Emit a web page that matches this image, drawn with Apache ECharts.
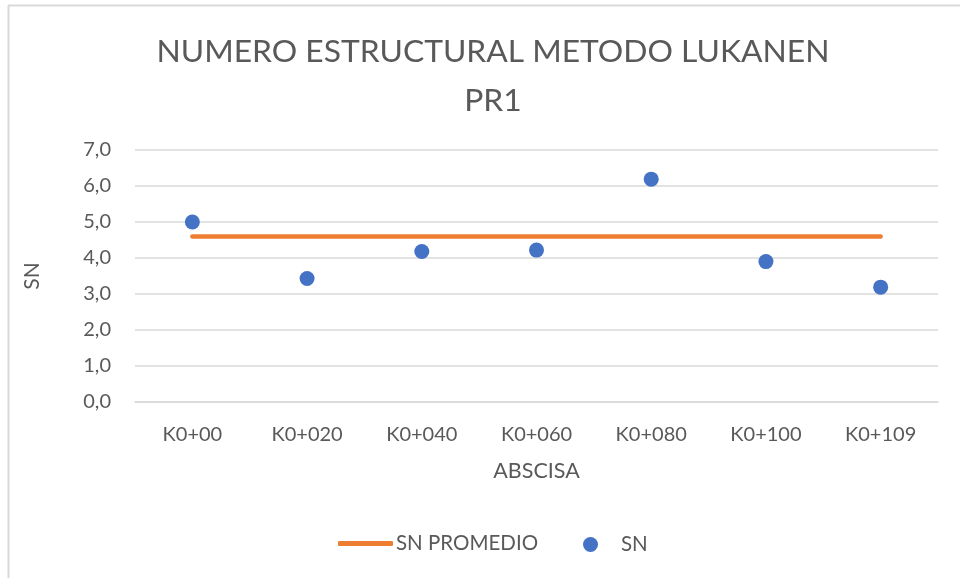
<!DOCTYPE html>
<html>
<head>
<meta charset="utf-8">
<script src="https://cdn.jsdelivr.net/npm/echarts@6/dist/echarts.min.js"></script>
<style>html,body{margin:0;padding:0;background:#fff}#c{width:960px;height:578px}</style>
</head>
<body>
<div id="c"></div>
<script>
const categories = ['K0+00','K0+020','K0+040','K0+060','K0+080','K0+100','K0+109'];
const snValues = [5.00, 3.43, 4.18, 4.22, 6.19, 3.90, 3.19];
const snPromedio = [4.60, 4.60, 4.60, 4.60, 4.60, 4.60, 4.60];
const yTicks = { min: 0, max: 7, interval: 1 };

const FONT = 'Lato';
const TXT = '#595959';
const chart = echarts.init(document.getElementById('c'));
chart.setOption({
  backgroundColor: '#fff',
  animation: false,
  textStyle: { fontFamily: FONT },
  title: {
    text: 'NUMERO ESTRUCTURAL METODO LUKANEN\nPR1',
    left: 488, top: 22, textAlign: 'center',
    textStyle: { fontFamily: FONT, fontSize: 31.8, fontWeight: 'normal', color: TXT, lineHeight: 49 }
  },
  graphic: [
    { type: 'line', shape: { x1: 8, y1: 5.5, x2: 960, y2: 5.5 }, style: { stroke: '#d9d9d9', lineWidth: 2 } },
    { type: 'line', shape: { x1: 8.5, y1: 5, x2: 8.5, y2: 578 }, style: { stroke: '#d9d9d9', lineWidth: 2 } }
  ],
  legend: [
    { data: [{ name: 'SN PROMEDIO', icon: 'roundRect' }], left: 333, top: 528, itemWidth: 55, itemHeight: 5,
      textStyle: { fontFamily: FONT, fontSize: 20.5, color: TXT, padding: [0, 0, 0, -2] } },
    { data: [{ name: 'SN', icon: 'circle' }], left: 578, top: 529, itemWidth: 15, itemHeight: 15,
      textStyle: { fontFamily: FONT, fontSize: 20.5, color: TXT, padding: [0, 0, 0, 18] } }
  ],
  grid: { left: 135, right: 22, top: 150, bottom: 176 },
  xAxis: {
    type: 'category', data: categories, boundaryGap: true,
    name: 'ABSCISA', nameLocation: 'middle', nameGap: 58,
    nameTextStyle: { fontFamily: FONT, fontSize: 21.5, color: TXT },
    axisLine: { lineStyle: { color: '#d9d9d9', width: 1.5 } },
    axisTick: { show: false },
    axisLabel: { fontFamily: FONT, fontSize: 20, color: TXT, margin: 23 }
  },
  yAxis: {
    type: 'value', min: yTicks.min, max: yTicks.max, interval: yTicks.interval,
    name: 'SN', nameLocation: 'middle', nameGap: 92,
    nameTextStyle: { fontFamily: FONT, fontSize: 21, color: TXT },
    axisLine: { show: false }, axisTick: { show: false },
    splitLine: { lineStyle: { color: '#d9d9d9', width: 1.5 } },
    axisLabel: { fontFamily: FONT, fontSize: 20, color: TXT, margin: 24,
      formatter: v => v.toFixed(1).replace('.', ',') }
  },
  series: [
    { name: 'SN PROMEDIO', type: 'line', data: snPromedio, symbol: 'none',
      lineStyle: { color: '#ED7D31', width: 4.5, cap: 'round' }, itemStyle: { color: '#ED7D31' }, z: 2 },
    { name: 'SN', type: 'scatter', data: snValues, symbol: 'circle', symbolSize: 15,
      itemStyle: { color: '#4472C4', opacity: 1 }, z: 3 }
  ]
});
</script>
</body>
</html>
